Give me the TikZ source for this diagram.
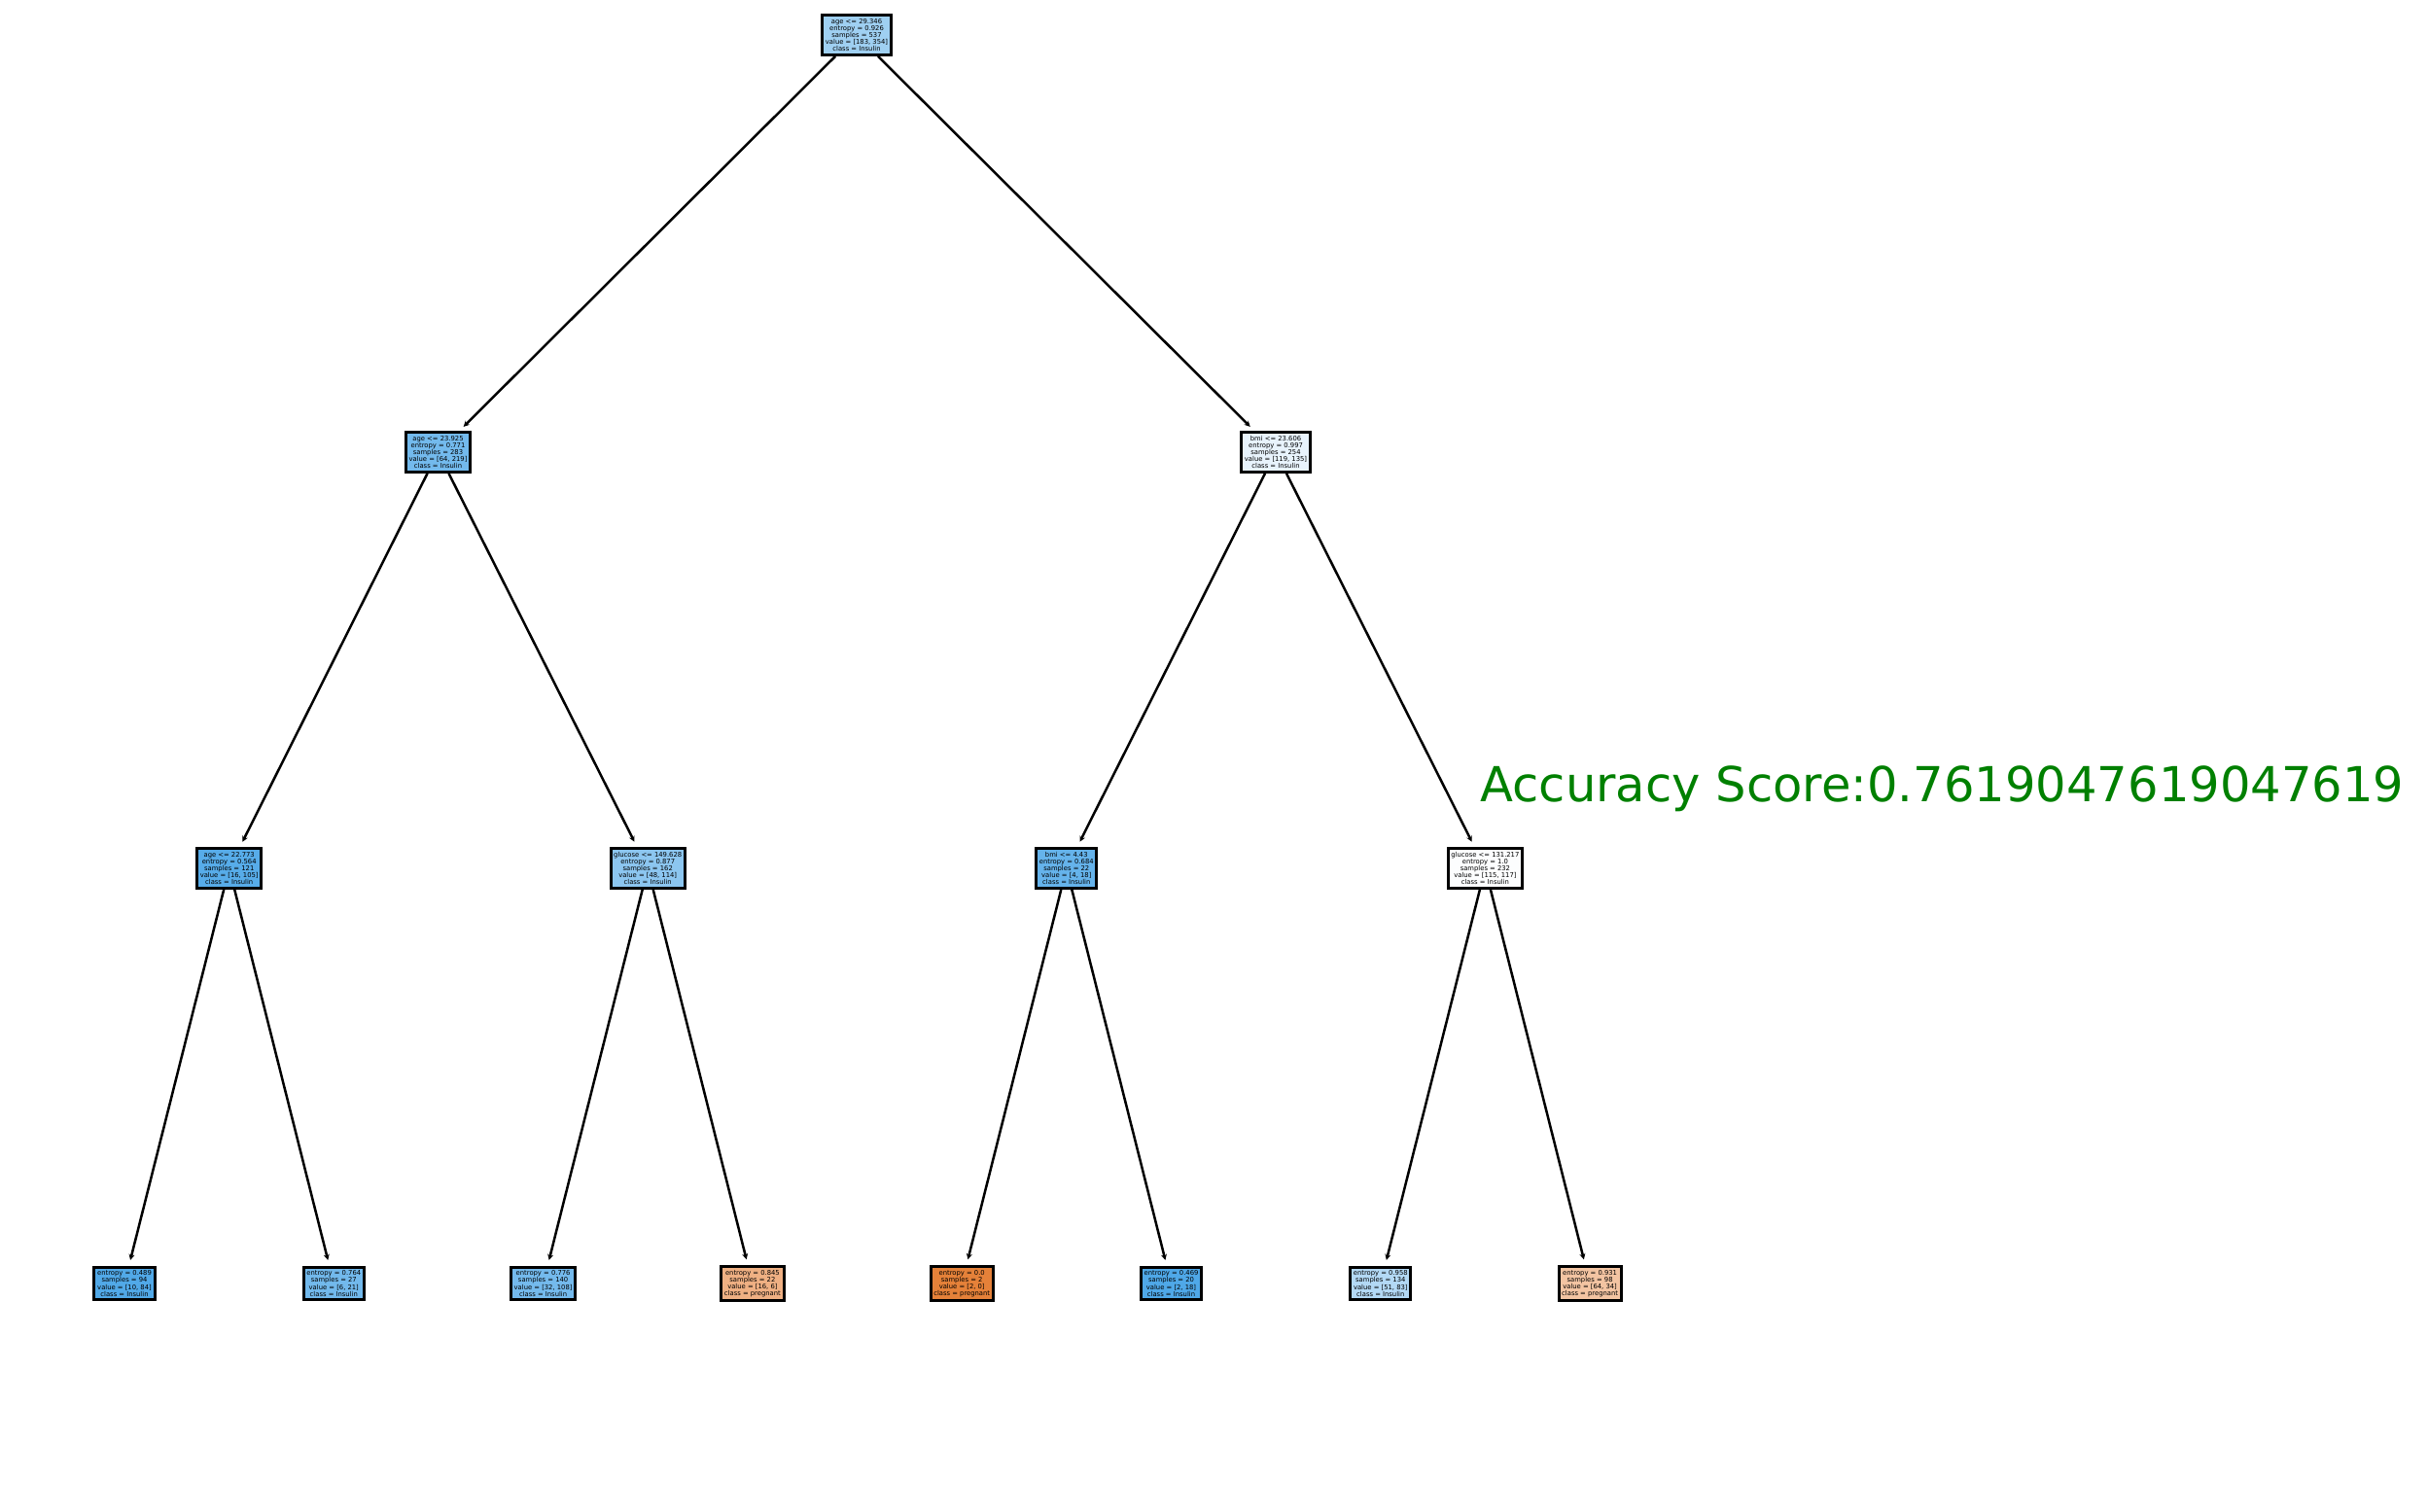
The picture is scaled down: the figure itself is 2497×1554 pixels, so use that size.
\documentclass[tikz,border=0pt]{standalone}
\usepackage{fontspec}
\setmainfont{DejaVu Sans}
\usetikzlibrary{arrows.meta}
\definecolor{cRoot}{RGB}{159,208,242}
\definecolor{cA}{RGB}{115,186,237}
\definecolor{cB}{RGB}{232,243,252}
\definecolor{cAA}{RGB}{87,172,233}
\definecolor{cAB}{RGB}{140,198,240}
\definecolor{cBA}{RGB}{101,179,235}
\definecolor{cBB}{RGB}{252,253,254}
\definecolor{cL1}{RGB}{81,169,232}
\definecolor{cL2}{RGB}{114,185,236}
\definecolor{cL3}{RGB}{116,186,237}
\definecolor{cL4}{RGB}{239,176,131}
\definecolor{cL5}{RGB}{229,129,57}
\definecolor{cL6}{RGB}{79,168,232}
\definecolor{cL7}{RGB}{179,217,245}
\definecolor{cL8}{RGB}{243,196,162}
\definecolor{accgreen}{RGB}{0,128,0}
\begin{document}
\begin{tikzpicture}[x=0.5pt,y=-0.5pt,
  tn/.style={draw=black, line width=1.5pt, inner xsep=1.6pt, inner ysep=1.7pt, align=center,
    font=\fontsize{3.4pt}{3.6pt}\selectfont, text=black},
  edge/.style={line width=1.25pt, -{Stealth[length=3pt,width=3pt]}, shorten >=3pt}]
\useasboundingbox (0,0) rectangle (2497,1554);
% root
\node[tn, fill=cRoot] (r) at (881,36) {age <= 29.346\\entropy = 0.926\\samples = 537\\value = [183, 354]\\class = Insulin};
% level 2
\node[tn, fill=cA] (a) at (450.5,465) {age <= 23.925\\entropy = 0.771\\samples = 283\\value = [64, 219]\\class = Insulin};
\node[tn, fill=cB] (b) at (1312,465) {bmi <= 23.606\\entropy = 0.997\\samples = 254\\value = [119, 135]\\class = Insulin};
% level 3
\node[tn, fill=cAA] (aa) at (235.7,893) {age <= 22.773\\entropy = 0.564\\samples = 121\\value = [16, 105]\\class = Insulin};
\node[tn, fill=cAB] (ab) at (666.2,893) {glucose <= 149.628\\entropy = 0.877\\samples = 162\\value = [48, 114]\\class = Insulin};
\node[tn, fill=cBA] (ba) at (1096.8,893) {bmi <= 4.43\\entropy = 0.684\\samples = 22\\value = [4, 18]\\class = Insulin};
\node[tn, fill=cBB] (bb) at (1527.4,893) {glucose <= 131.217\\entropy = 1.0\\samples = 232\\value = [115, 117]\\class = Insulin};
% leaves
\node[tn, fill=cL1] (l1) at (128,1320) {entropy = 0.489\\samples = 94\\value = [10, 84]\\class = Insulin};
\node[tn, fill=cL2] (l2) at (343.3,1320) {entropy = 0.764\\samples = 27\\value = [6, 21]\\class = Insulin};
\node[tn, fill=cL3] (l3) at (558.6,1320) {entropy = 0.776\\samples = 140\\value = [32, 108]\\class = Insulin};
\node[tn, fill=cL4] (l4) at (773.9,1320) {entropy = 0.845\\samples = 22\\value = [16, 6]\\class = pregnant};
\node[tn, fill=cL5] (l5) at (989.2,1320) {entropy = 0.0\\samples = 2\\value = [2, 0]\\class = pregnant};
\node[tn, fill=cL6] (l6) at (1204.5,1320) {entropy = 0.469\\samples = 20\\value = [2, 18]\\class = Insulin};
\node[tn, fill=cL7] (l7) at (1419.8,1320) {entropy = 0.958\\samples = 134\\value = [51, 83]\\class = Insulin};
\node[tn, fill=cL8] (l8) at (1635.1,1320) {entropy = 0.931\\samples = 98\\value = [64, 34]\\class = pregnant};
% edges
\draw[edge] (r) -- (a);
\draw[edge] (r) -- (b);
\draw[edge] (a) -- (aa);
\draw[edge] (a) -- (ab);
\draw[edge] (b) -- (ba);
\draw[edge] (b) -- (bb);
\draw[edge] (aa) -- (l1);
\draw[edge] (aa) -- (l2);
\draw[edge] (ab) -- (l3);
\draw[edge] (ab) -- (l4);
\draw[edge] (ba) -- (l5);
\draw[edge] (ba) -- (l6);
\draw[edge] (bb) -- (l7);
\draw[edge] (bb) -- (l8);
% accuracy
\node[anchor=base west, inner sep=0pt, text=accgreen, font=\fontsize{24.8pt}{29pt}\selectfont] (acc) at (1522,824) {Accuracy Score:0.7619047619047619};
\end{tikzpicture}
\end{document}
